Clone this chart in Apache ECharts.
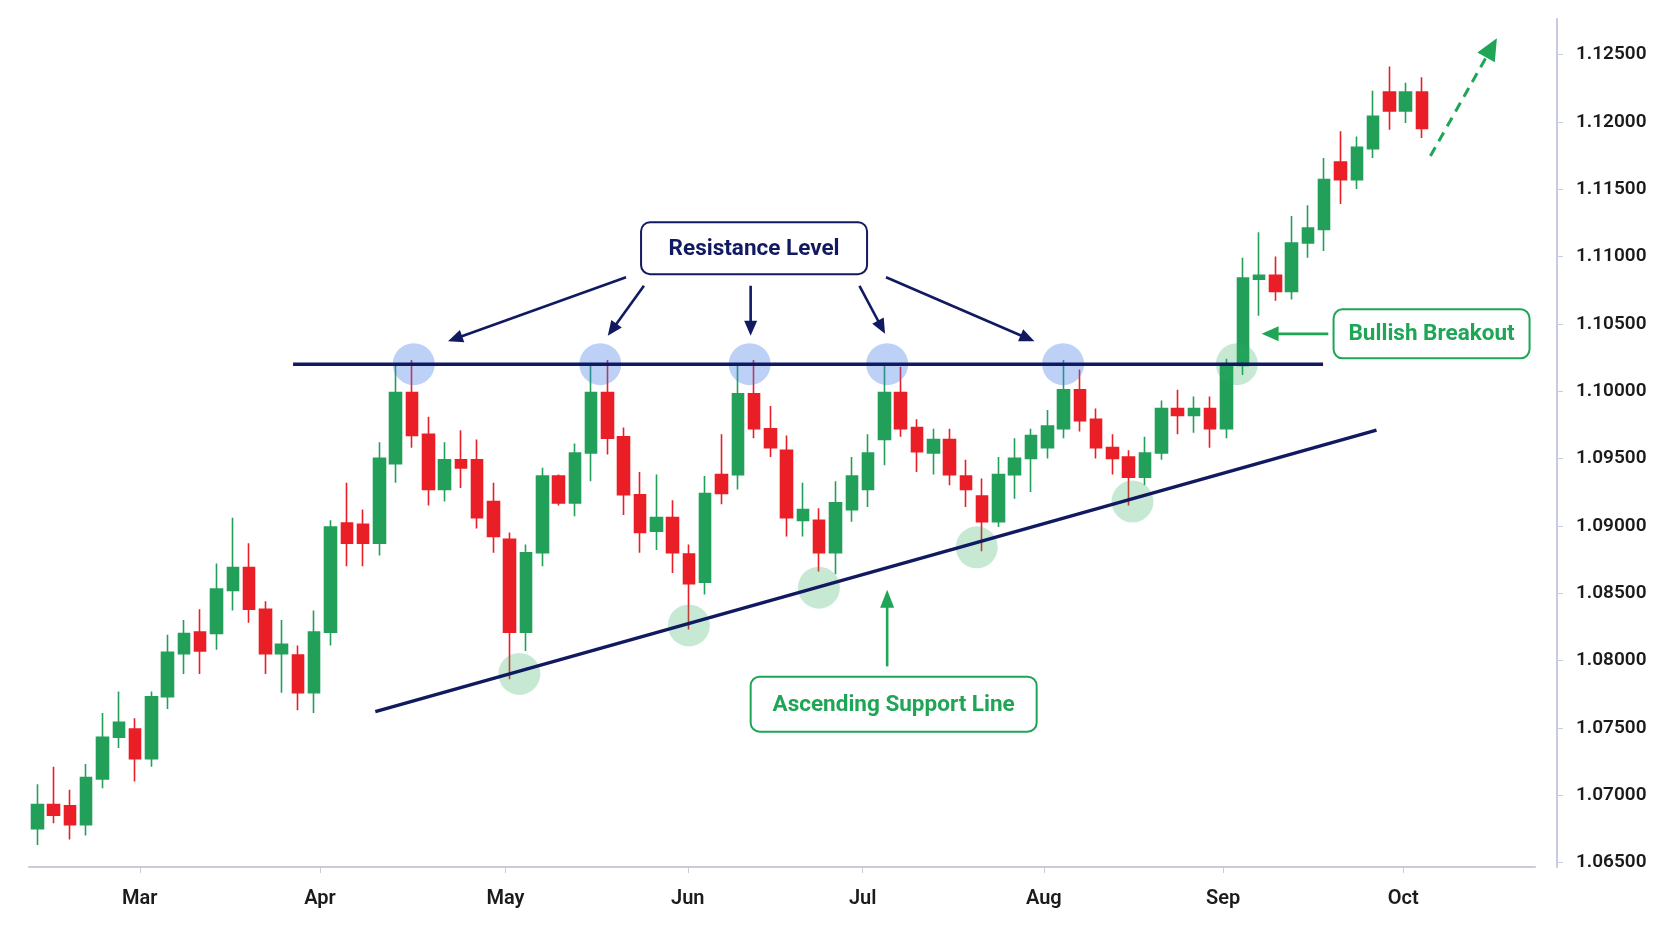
<!DOCTYPE html>
<html>
<head>
<meta charset="utf-8">
<script src="https://cdn.jsdelivr.net/npm/echarts@6/dist/echarts.min.js"></script>
<style>
html,body{margin:0;padding:0;background:#ffffff;}
#chart{width:1672px;height:941px;}
</style>
</head>
<body>
<div id="chart"></div>
<script>
// ---------- DATA ----------
const opens  = [1.0675,1.0693,1.0692,1.0678,1.0712,1.0743,1.0749,1.0727,1.0773,1.0805,
                1.0821,1.0820,1.0852,1.0869,1.0838,1.0805,1.0804,1.0776,1.0821,1.0902,
                1.0901,1.0887,1.0946,1.0999,1.0968,1.0927,1.0949,1.0949,1.0918,1.0890,
                1.0821,1.0880,1.0937,1.0917,1.0954,1.0999,1.0966,1.0923,1.0896,1.0906,
                1.0879,1.0858,1.0938,1.0938,1.0998,1.0972,1.0956,1.0904,1.0904,1.0880,
                1.0912,1.0927,1.0964,1.0999,1.0973,1.0954,1.0964,1.0937,1.0922,1.0903,
                1.0938,1.0950,1.0958,1.0972,1.1001,1.0979,1.0958,1.0951,1.0936,1.0954,
                1.0987,1.0982,1.0987,1.0972,1.1019,1.1083,1.1086,1.1074,1.1110,1.1120,
                1.1170,1.1157,1.1180,1.1222,1.1208,1.1222];
const closes = [1.0693,1.0685,1.0678,1.0713,1.0743,1.0754,1.0727,1.0773,1.0806,1.0820,
                1.0807,1.0853,1.0869,1.0838,1.0805,1.0812,1.0776,1.0821,1.0899,1.0887,
                1.0887,1.0950,1.0999,1.0967,1.0927,1.0949,1.0943,1.0906,1.0892,1.0821,
                1.0880,1.0937,1.0917,1.0954,1.0999,1.0965,1.0923,1.0895,1.0906,1.0880,
                1.0857,1.0924,1.0924,1.0998,1.0972,1.0958,1.0906,1.0912,1.0880,1.0917,
                1.0937,1.0954,1.0999,1.0972,1.0955,1.0964,1.0938,1.0927,1.0903,1.0938,
                1.0950,1.0967,1.0974,1.1001,1.0978,1.0958,1.0950,1.0936,1.0954,1.0987,
                1.0982,1.0987,1.0972,1.1018,1.1084,1.1086,1.1074,1.1110,1.1121,1.1157,
                1.1157,1.1181,1.1204,1.1208,1.1222,1.1195];
const lows   = [1.0663,1.0679,1.0667,1.0670,1.0705,1.0735,1.0710,1.0721,1.0764,1.0790,
                1.0790,1.0808,1.0837,1.0828,1.0790,1.0776,1.0763,1.0761,1.0811,1.0870,
                1.0870,1.0878,1.0932,1.0958,1.0915,1.0918,1.0928,1.0898,1.0880,1.0786,
                1.0807,1.0870,1.0915,1.0907,1.0933,1.0953,1.0908,1.0880,1.0882,1.0865,
                1.0823,1.0849,1.0916,1.0927,1.0965,1.0951,1.0892,1.0892,1.0866,1.0864,
                1.0903,1.0914,1.0945,1.0966,1.0940,1.0938,1.0930,1.0914,1.0881,1.0899,
                1.0920,1.0925,1.0950,1.0965,1.0970,1.0950,1.0938,1.0915,1.0930,1.0949,
                1.0968,1.0969,1.0958,1.0965,1.1012,1.1056,1.1067,1.1068,1.1099,1.1104,
                1.1139,1.1150,1.1173,1.1194,1.1199,1.1188];
const highs  = [1.0708,1.0721,1.0704,1.0723,1.0761,1.0777,1.0757,1.0777,1.0819,1.0830,
                1.0838,1.0872,1.0906,1.0887,1.0844,1.0830,1.0811,1.0837,1.0904,1.0932,
                1.0912,1.0962,1.1019,1.1023,1.0981,1.0962,1.0971,1.0964,1.0932,1.0895,
                1.0886,1.0943,1.0938,1.0961,1.1019,1.1023,1.0973,1.0940,1.0938,1.0919,
                1.0886,1.0937,1.0968,1.1019,1.1023,1.0989,1.0967,1.0932,1.0913,1.0933,
                1.0951,1.0968,1.1019,1.1018,1.0979,1.0972,1.0972,1.0949,1.0935,1.0951,
                1.0965,1.0972,1.0986,1.1023,1.1016,1.0987,1.0968,1.0956,1.0966,1.0993,
                1.1001,1.0996,1.0996,1.1024,1.1099,1.1118,1.1100,1.1130,1.1138,1.1173,
                1.1193,1.1189,1.1223,1.1241,1.1229,1.1233];

// month tick labels and their positions (in candle-index units)
const monthLabels    = ['Mar','Apr','May','Jun','Jul','Aug','Sep','Oct'];
const monthPositions = [6.29, 17.35, 28.74, 39.93, 50.67, 61.79, 72.79, 83.85];
// price tick labels
const priceTicks = [1.065,1.070,1.075,1.080,1.085,1.090,1.095,1.100,1.105,1.110,1.115,1.120,1.125];

// annotation geometry in data space: [index, price]
const resistanceLine    = [[15.70, 1.1020], [78.93, 1.1020]];
const supportLine       = [[20.75, 1.0762], [82.21, 1.0971]];
const resistanceTouches = [[23.11, 1.1020], [34.56, 1.1020], [43.73, 1.1020], [52.17, 1.1020], [62.97, 1.1020]];
const supportTouches    = [[29.59, 1.0790], [40.00, 1.0826], [47.98, 1.0854], [57.67, 1.0884], [67.23, 1.0918], [73.64, 1.1020]];
const resistanceArrows  = [
  [[36.14, 1.10845], [25.21, 1.10370]],
  [[37.24, 1.10782], [35.02, 1.10410]],
  [[43.79, 1.10782], [43.79, 1.10410]],
  [[50.47, 1.10782], [52.04, 1.10425]],
  [[52.10, 1.10845], [61.21, 1.10370]]
];
const supportArrow  = [[52.17, 1.07956], [52.17, 1.08525]];
const breakoutArrow = [[79.25, 1.10425], [75.16, 1.10425]];
const trendArrow    = [[85.52, 1.11746], [89.60, 1.12620]];
const noteTexts   = ['Resistance Level', 'Ascending Support Line', 'Bullish Breakout'];
const noteAnchors = [[44.00, 1.11061], [52.57, 1.07675], [85.59, 1.10425]];

// ---------- STYLE ----------
const GREEN = '#22a05a';
const RED = '#ea1e26';
const NAVY = '#111a60';
const NOTE_GREEN = '#1ea555';
const FONT = 'Roboto, "Noto Sans", sans-serif';

const candleData = opens.map((o, i) => [i, o, closes[i], lows[i], highs[i]]);

const chart = echarts.init(document.getElementById('chart'), null, {renderer: 'canvas'});

const option = {
  backgroundColor: '#ffffff',
  animation: false,
  grid: {left: 29, right: 137, top: 19, bottom: 74, outerBoundsMode: 'none'},
  xAxis: {
    type: 'value',
    min: -0.51,
    max: 91.94,
    axisLine: {show: true, onZero: false, lineStyle: {color: '#c9ccd6', width: 2}},
    axisTick: {show: true, customValues: monthPositions, length: 6, lineStyle: {color: '#c9ccd6', width: 1}},
    axisLabel: {
      show: true,
      customValues: monthPositions,
      margin: 22,
      fontSize: 20,
      fontWeight: 600,
      fontFamily: FONT,
      color: '#1b1b1b',
      formatter: function (v) {
        for (let k = 0; k < monthPositions.length; k++) {
          if (Math.abs(monthPositions[k] - v) < 1e-6) return monthLabels[k];
        }
        return '';
      }
    },
    splitLine: {show: false}
  },
  yAxis: {
    type: 'value',
    position: 'right',
    offset: 22,
    min: 1.06466,
    max: 1.12763,
    axisLine: {show: true, onZero: false, lineStyle: {color: '#c8cbe0', width: 2}},
    axisTick: {show: true, customValues: priceTicks, length: 6, lineStyle: {color: '#c8cbe0', width: 1}},
    axisLabel: {
      show: true,
      customValues: priceTicks,
      margin: 19,
      padding: [6, 0, 0, 0],
      fontSize: 19,
      fontWeight: 600,
      fontFamily: FONT,
      color: '#1b1b1b',
      formatter: function (v) { return v.toFixed(5); }
    },
    splitLine: {show: false}
  },
  series: [
    {
      type: 'candlestick',
      data: candleData,
      encode: {x: 0, y: [1, 2, 3, 4]},
      barWidth: 12,
      itemStyle: {color: GREEN, color0: RED, borderColor: GREEN, borderColor0: RED, borderWidth: 1.6},
      z: 2
    },
    {
      type: 'scatter',
      data: resistanceTouches,
      symbol: 'circle',
      symbolSize: 42,
      itemStyle: {color: 'rgba(60,120,230,0.42)'},
      silent: true,
      z: 3
    },
    {
      type: 'scatter',
      data: supportTouches,
      symbol: 'circle',
      symbolSize: 42,
      itemStyle: {color: 'rgba(40,170,90,0.33)'},
      silent: true,
      z: 3
    },
    {
      type: 'line',
      data: resistanceLine,
      symbol: 'none',
      lineStyle: {color: NAVY, width: 3.5},
      silent: true,
      z: 4
    },
    {
      type: 'line',
      data: supportLine,
      symbol: 'none',
      lineStyle: {color: NAVY, width: 3.5},
      silent: true,
      z: 4
    }
  ]
};
chart.setOption(option);

// ---------- annotations (positioned via the chart's own scales) ----------
function px(p) { return chart.convertToPixel({gridIndex: 0}, p); }

function arrow(from, to, color, width, headLen, headW, dashed) {
  const a = px(from), b = px(to);
  const dx = b[0] - a[0], dy = b[1] - a[1];
  const len = Math.sqrt(dx * dx + dy * dy);
  const ux = dx / len, uy = dy / len;
  const bx = b[0] - ux * headLen, by = b[1] - uy * headLen;
  const nx = -uy, ny = ux;
  return [
    {
      type: 'line', z: 50, silent: true,
      shape: {x1: a[0], y1: a[1], x2: bx + ux * 1, y2: by + uy * 1},
      style: {stroke: color, lineWidth: width, lineDash: dashed ? [10, 7] : null, lineCap: 'butt'}
    },
    {
      type: 'polygon', z: 51, silent: true,
      shape: {points: [[b[0], b[1]], [bx + nx * headW / 2, by + ny * headW / 2], [bx - nx * headW / 2, by - ny * headW / 2]]},
      style: {fill: color}
    }
  ];
}

const boxSizes = [[226, 52], [286, 55], [196, 49]];
const boxColors = [NAVY, NOTE_GREEN, NOTE_GREEN];

let graphics = [];
resistanceArrows.forEach(function (ar) {
  graphics = graphics.concat(arrow(ar[0], ar[1], NAVY, 2.6, 15, 13, false));
});
graphics = graphics.concat(arrow(supportArrow[0], supportArrow[1], NOTE_GREEN, 2.6, 18, 14, false));
graphics = graphics.concat(arrow(breakoutArrow[0], breakoutArrow[1], NOTE_GREEN, 2.6, 17, 15, false));
graphics = graphics.concat(arrow(trendArrow[0], trendArrow[1], NOTE_GREEN, 3, 22, 20, true));

noteTexts.forEach(function (t, i) {
  const c = px(noteAnchors[i]);
  const w = boxSizes[i][0], h = boxSizes[i][1];
  graphics.push({
    type: 'group', x: c[0], y: c[1], z: 60, silent: true,
    children: [
      {type: 'rect', shape: {x: -w / 2, y: -h / 2, width: w, height: h, r: 9},
       style: {fill: '#ffffff', stroke: boxColors[i], lineWidth: 2}},
      {type: 'text', x: 0, y: 1,
       style: {text: t, fill: boxColors[i], font: 'bold 22.5px ' + FONT, align: 'center', verticalAlign: 'middle'}}
    ]
  });
});

chart.setOption({graphic: graphics});
</script>
</body>
</html>
